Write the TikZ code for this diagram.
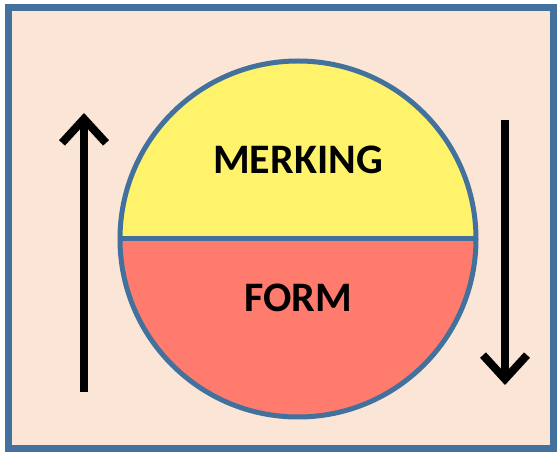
\documentclass[tikz,border=0pt]{standalone}
\usepackage{fontspec}
\setmainfont{Carlito}
\usepackage{tikz}
\usetikzlibrary{arrows.meta,positioning}

\definecolor{peach}{HTML}{FBE5D6}
\definecolor{rimblue}{HTML}{41719C}
\definecolor{lemon}{HTML}{FFF36B}
\definecolor{salmon}{HTML}{FF7B6E}

\begin{document}
\begin{tikzpicture}[x=1pt, y=1pt,
    frame/.style = {draw=rimblue, fill=peach, line width=7pt},
    disc/.style = {draw=rimblue, line width=5pt, circle, minimum size=356pt, inner sep=0pt, outer sep=0pt, fill=lemon,
        path picture={\fill[salmon] (path picture bounding box.west) rectangle (path picture bounding box.south east);}},
    word/.style = {font=\bfseries\fontsize{42}{44}\selectfont},
    flow/.style = {line width=8pt, -{Straight Barb[length=24pt, width=44pt, line width=8pt]}}]
    \useasboundingbox (0,0) rectangle (557,455);
    \draw[frame] (8,6) rectangle (553,447);
    \node[disc] (disc) at (298,216) {};
    \draw[draw=rimblue, line width=5pt] (disc.west) -- (disc.east);
    \node[word] (merking) at (298,295) {MERKING};
    \node[word] (form) at (298,157) {FORM};
    \coordinate (upfoot) at (84,63);
    \coordinate (uphead) at (84,342);
    \coordinate (downfoot) at (505,335);
    \coordinate (downhead) at (505,70);
    \draw[flow] (upfoot) -- (uphead);
    \draw[flow] (downfoot) -- (downhead);
\end{tikzpicture}
\end{document}
